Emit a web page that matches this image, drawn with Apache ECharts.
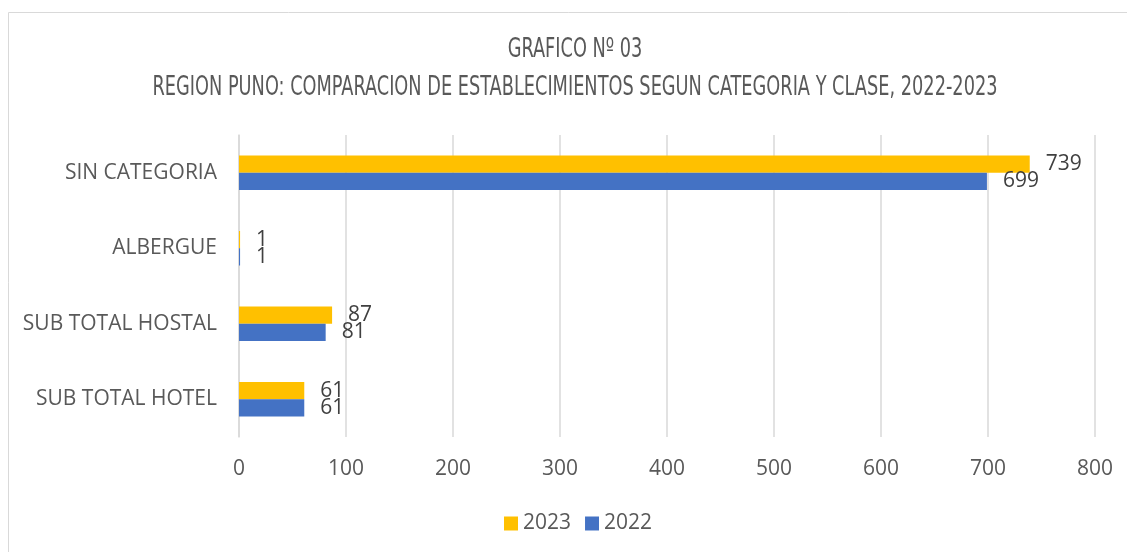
<!DOCTYPE html>
<html><head><meta charset="utf-8">
<script src="https://cdn.jsdelivr.net/npm/echarts@6/dist/echarts.min.js"></script>
<style>html,body{margin:0;padding:0;background:#fff}#c{width:1127px;height:552px}</style>
</head><body><div id="c"></div>
<script>
const categories = ['SUB TOTAL HOTEL', 'SUB TOTAL HOSTAL', 'ALBERGUE', 'SIN CATEGORIA'];
const values2023 = [61, 87, 1, 739];
const values2022 = [61, 81, 1, 699];
const xTicks = [0, 100, 200, 300, 400, 500, 600, 700, 800];
const titleLine1 = 'GRAFICO Nº 03';
const titleLine2 = 'REGION PUNO: COMPARACION DE ESTABLECIMIENTOS SEGUN CATEGORIA Y CLASE, 2022-2023';

const titleFont = '26px "DejaVu Sans Condensed"';
const ctx = document.createElement('canvas').getContext('2d');
ctx.font = titleFont;
const w2 = ctx.measureText(titleLine2).width;
const sx = 845 / w2;

const chart = echarts.init(document.getElementById('c'), null, {renderer: 'canvas'});
const lbl = {show: true, position: 'right', distance: 16, color: '#404040', fontSize: 21, fontFamily: 'Open Sans'};
const tStyle = {fill: '#595959', font: titleFont, textAlign: 'center', textVerticalAlign: 'middle'};
chart.setOption({
  animation: false,
  graphic: [
    {type: 'rect', shape: {x: 8.5, y: 12.5, width: 1140, height: 560}, style: {fill: 'none', stroke: '#d9d9d9', lineWidth: 1}},
    {type: 'text', x: 575, y: 50, scaleX: sx, style: Object.assign({text: titleLine1}, tStyle)},
    {type: 'text', x: 575, y: 88, scaleX: sx, style: Object.assign({text: titleLine2}, tStyle)}
  ],
  legend: {data: ['2023', '2022'], left: 499, top: 508, itemWidth: 14, itemHeight: 14, itemGap: 14,
    icon: 'rect', textStyle: {fontFamily: 'Open Sans', fontSize: 21, color: '#595959'}},
  grid: {left: 239, right: 32, top: 135, bottom: 115, containLabel: false},
  xAxis: {type: 'value', min: 0, max: 800, interval: 100,
    axisLine: {show: false}, axisTick: {show: false},
    splitLine: {lineStyle: {color: '#d9d9d9', width: 1.5}},
    axisLabel: {margin: 22, color: '#595959', fontSize: 21, fontFamily: 'Open Sans',
      formatter: v => xTicks.includes(v) ? String(v) : ''}},
  yAxis: {type: 'category', data: categories,
    axisLine: {show: true, lineStyle: {color: '#d9d9d9', width: 1.5}}, axisTick: {show: false},
    axisLabel: {margin: 22, color: '#595959', fontSize: 21, fontFamily: 'Open Sans'}},
  series: [
    {name: '2023', type: 'bar', data: values2023, itemStyle: {color: '#FFC000'}, barGap: '0%', barCategoryGap: '54%', label: lbl},
    {name: '2022', type: 'bar', data: values2022, itemStyle: {color: '#4472C4'}, barGap: '0%', barCategoryGap: '54%', label: lbl}
  ]
});
</script></body></html>
